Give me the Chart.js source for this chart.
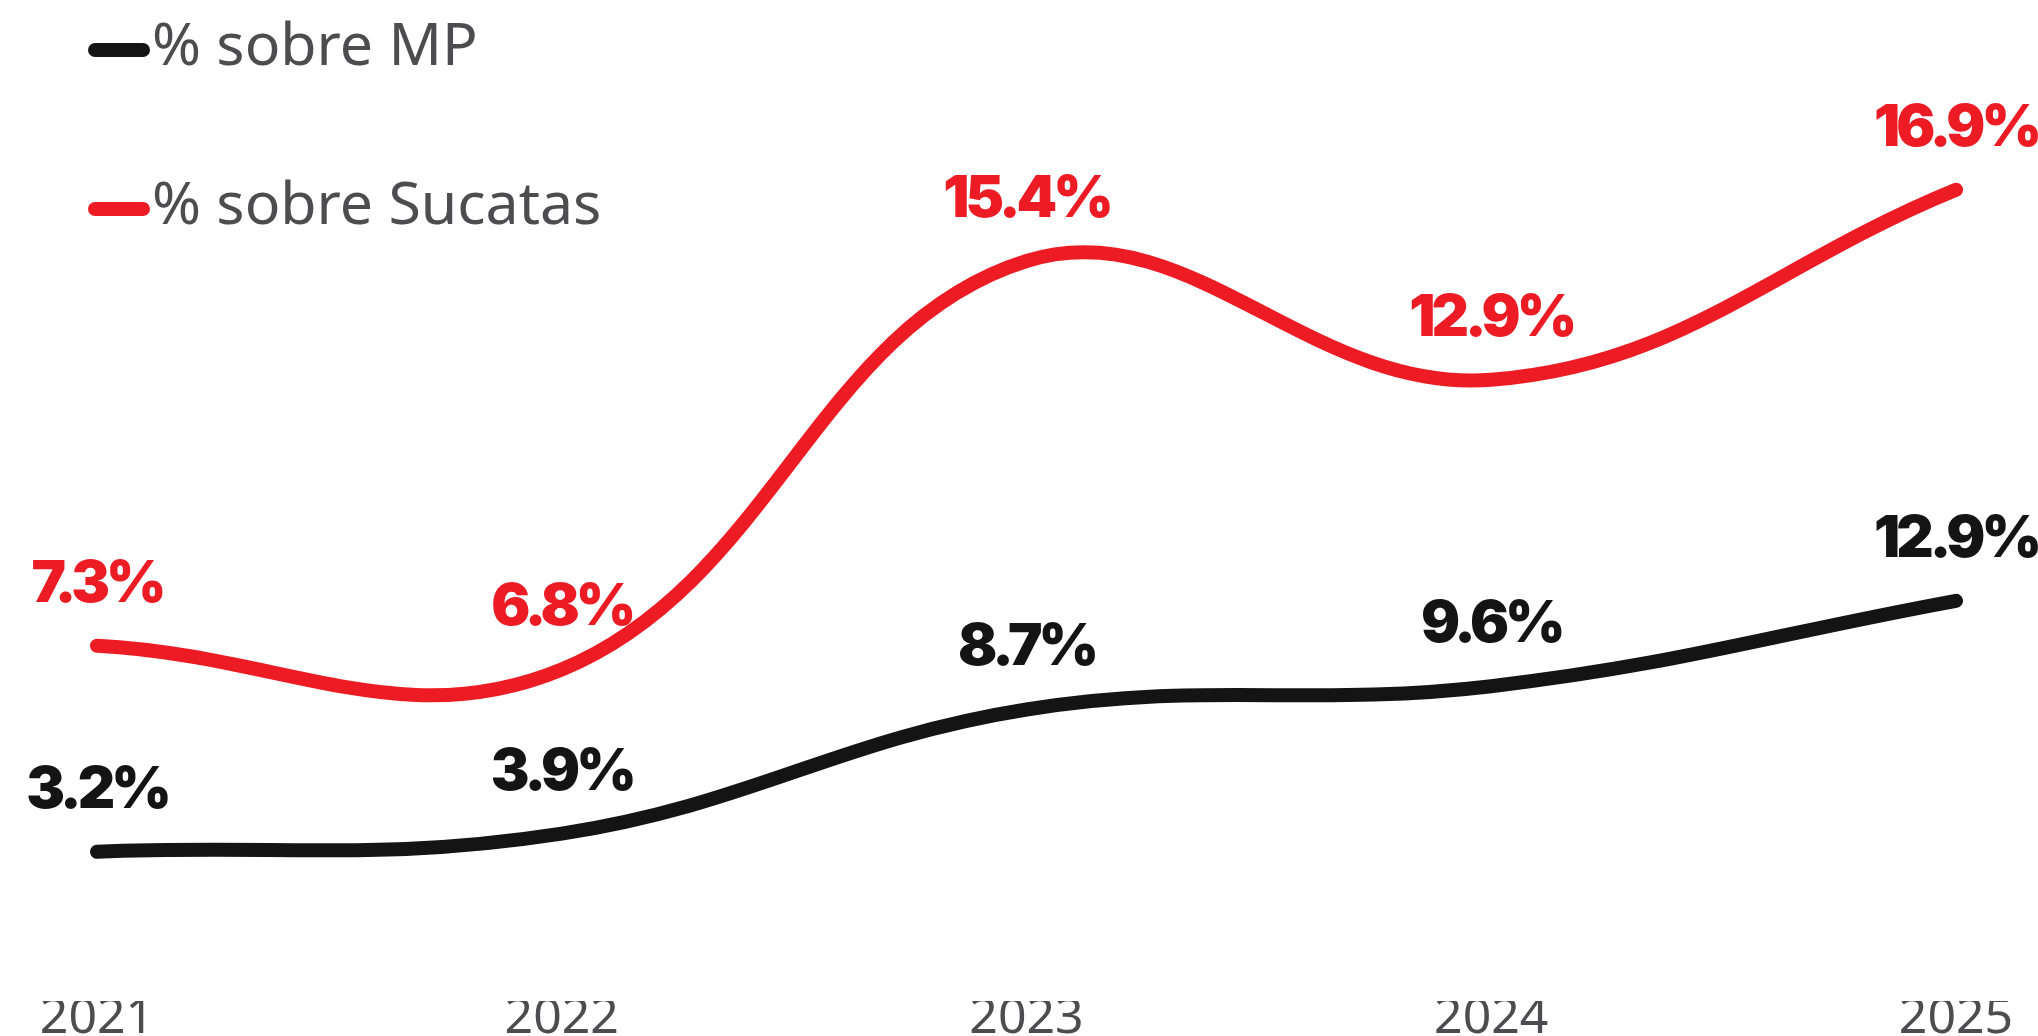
<!DOCTYPE html>
<html>
<head>
<meta charset="utf-8">
<script src="https://cdn.jsdelivr.net/npm/chart.js@4.4.1/dist/chart.umd.min.js"></script>
<style>
    html, body { margin: 0; padding: 0; background: #ffffff; overflow: hidden; }
    canvas { display: block; }
</style>
</head>
<body>
<canvas id="sucataChart" width="2038" height="1036"></canvas>
<script>
const years = ['2021', '2022', '2023', '2024', '2025'];
const mpValues = [3.2, 3.9, 8.7, 9.6, 12.9];          // % sobre MP
const sucataValues = [7.3, 6.8, 15.4, 12.9, 16.9];    // % sobre Sucatas
const seriesNames = ['% sobre MP', '% sobre Sucatas'];

const RED = '#ed1c24';
const BLACK = '#141414';
const GREY = '#4d4d4f';

// draws the value above every point, in the series colour
const valueLabels = {
    id: 'valueLabels',
    afterDatasetsDraw(chart) {
        const ctx = chart.ctx;
        chart.data.datasets.forEach((ds, i) => {
            const meta = chart.getDatasetMeta(i);
            meta.data.forEach((pt, j) => {
                ctx.save();
                ctx.font = '900 58px Inter, "Noto Sans", sans-serif';
                ctx.fillStyle = ds.borderColor;
                ctx.textAlign = 'center';
                ctx.textBaseline = 'alphabetic';
                ctx.letterSpacing = '-4px';
                ctx.fillText(ds.data[j].toFixed(1) + '%', pt.x, pt.y - 44);
                ctx.restore();
            });
        });
    }
};

// stacked legend in the top left corner
const stackedLegend = {
    id: 'stackedLegend',
    afterDraw(chart) {
        const ctx = chart.ctx;
        chart.data.datasets.forEach((ds, i) => {
            const y = 50 + i * 159;
            ctx.save();
            ctx.strokeStyle = ds.borderColor;
            ctx.lineWidth = 14;
            ctx.lineCap = 'round';
            ctx.beginPath();
            ctx.moveTo(95, y);
            ctx.lineTo(143, y);
            ctx.stroke();
            ctx.font = '400 59px "Noto Sans", sans-serif';
            ctx.fillStyle = GREY;
            ctx.textBaseline = 'alphabetic';
            ctx.fillText(ds.label, 152, y + 15);
            ctx.restore();
        });
    }
};

const ctx = document.getElementById('sucataChart').getContext('2d');
new Chart(ctx, {
    type: 'line',
    data: {
        labels: years,
        datasets: [
            {
                label: seriesNames[0],
                data: mpValues,
                borderColor: BLACK,
                borderWidth: 14,
                borderCapStyle: 'round',
                pointRadius: 0,
                tension: 0.4,
                fill: false,
                yAxisID: 'y'
            },
            {
                label: seriesNames[1],
                data: sucataValues,
                borderColor: RED,
                borderWidth: 14,
                borderCapStyle: 'round',
                pointRadius: 0,
                tension: 0.4,
                fill: false,
                yAxisID: 'y1'
            }
        ]
    },
    options: {
        responsive: false,
        animation: false,
        layout: {
            padding: { top: 100, left: 97, right: 82, bottom: 0 }
        },
        scales: {
            x: {
                grid: { display: false, drawTicks: false },
                border: { display: false },
                ticks: {
                    color: GREY,
                    padding: -5,
                    font: { family: '"Noto Sans", sans-serif', size: 50, lineHeight: 0.9 }
                }
            },
            y: {
                display: false,
                min: -2.57,
                max: 32.26
            },
            y1: {
                display: false,
                min: -0.18,
                max: 18.79
            }
        },
        plugins: {
            legend: { display: false },
            tooltip: { enabled: false }
        }
    },
    plugins: [valueLabels, stackedLegend]
});
</script>
</body>
</html>
